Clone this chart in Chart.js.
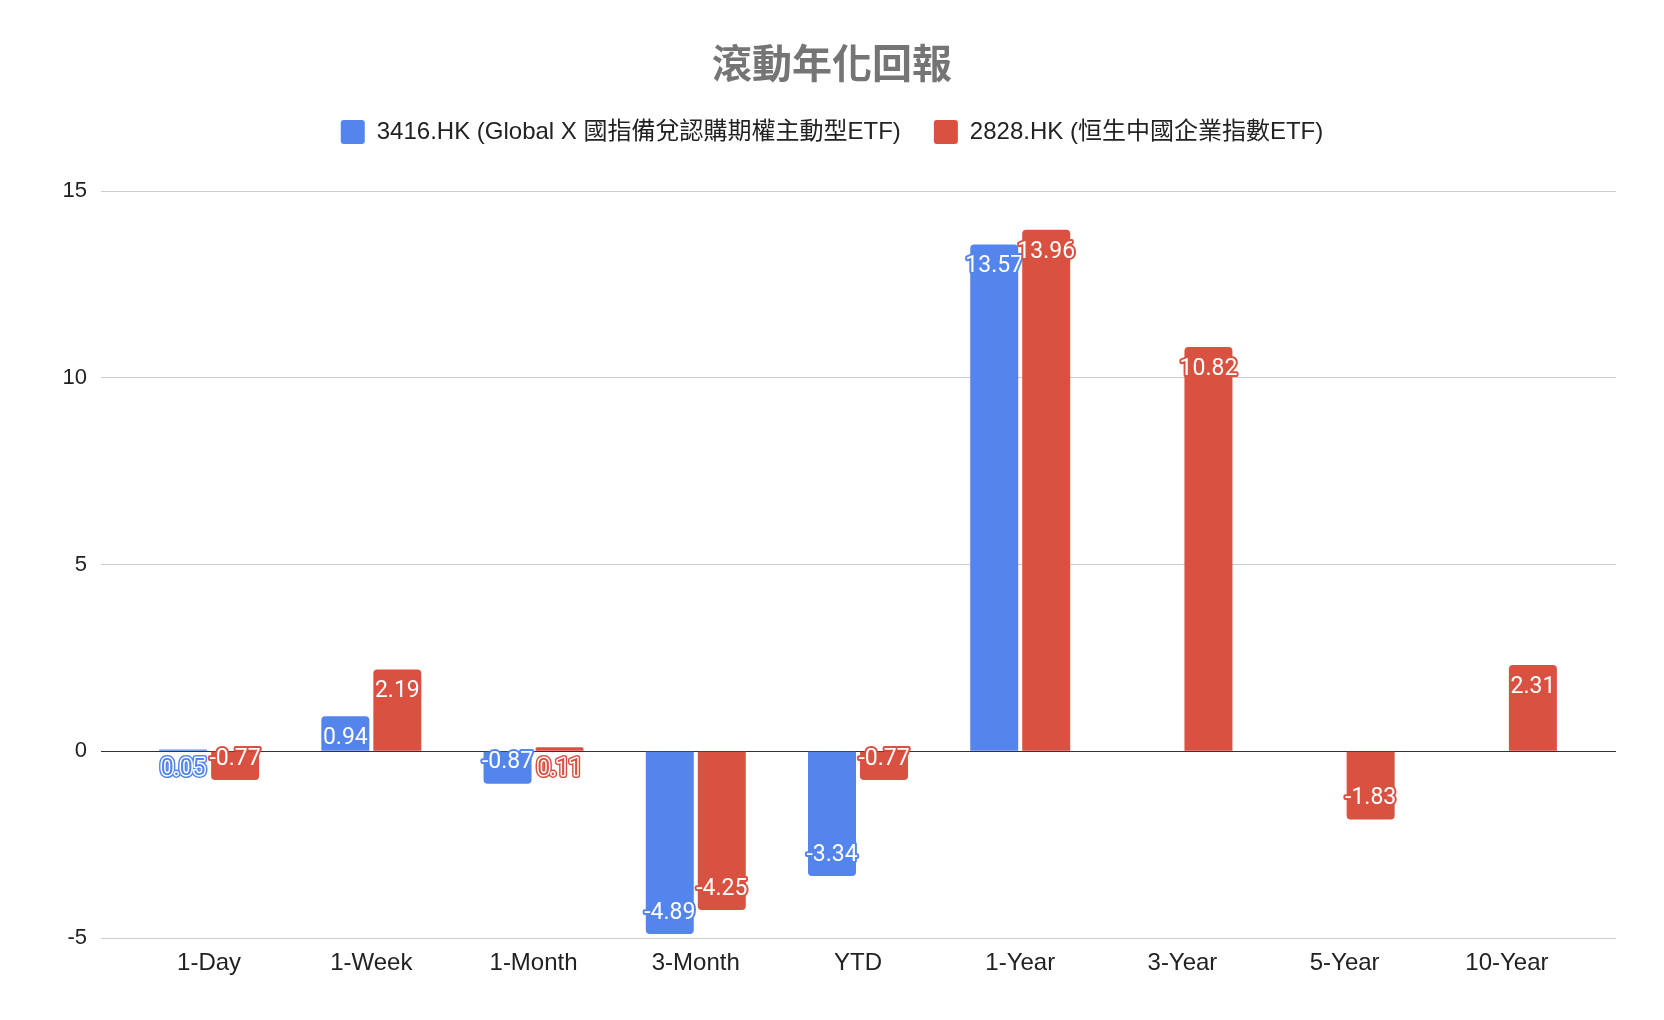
<!DOCTYPE html>
<html>
<head>
<meta charset="utf-8">
<title>滾動年化回報</title>
<script src="https://cdn.jsdelivr.net/npm/chart.js@4.4.1/dist/chart.umd.min.js"></script>
<style>
  html, body { margin: 0; padding: 0; background: #fff; }
  #wrap { width: 1664px; height: 1020px; }
</style>
</head>
<body>
<div id="wrap"><canvas id="grafico" width="1664" height="1020"></canvas></div>
<script>
// datos
const periodos = ["1-Day", "1-Week", "1-Month", "3-Month", "YTD", "1-Year", "3-Year", "5-Year", "10-Year"];
const serie3416 = [0.05, 0.94, -0.87, -4.89, -3.34, 13.57, null, null, null];
const serie2828 = [-0.77, 2.19, 0.11, -4.25, -0.77, 13.96, 10.82, -1.83, 2.31];
const nombre3416 = "3416.HK (Global X 國指備兌認購期權主動型ETF)";
const nombre2828 = "2828.HK (恒生中國企業指數ETF)";
const ticksY = [-5, 0, 5, 10, 15];

const azul = "#5385ec";
const rojo = "#d95140";
const fuenteLatina = "'Liberation Sans', Arial, 'Noto Sans CJK TC', sans-serif";

// espacio extra debajo de la leyenda
const espacioLeyenda = {
  id: "espacioLeyenda",
  beforeLayout(chart) {
    const lg = chart.legend;
    if (!lg || lg._conEspacio) return;
    const fitOriginal = lg.fit;
    lg.fit = function () {
      fitOriginal.call(this);
      this.height += 37;
    };
    lg._conEspacio = true;
  }
};

// etiquetas de valor al final de cada barra
const etiquetasBarras = {
  id: "etiquetasBarras",
  afterDatasetsDraw(chart) {
    const ctx = chart.ctx;
    ctx.save();
    ctx.font = "23px Roboto";
    ctx.textAlign = "center";
    ctx.textBaseline = "middle";
    ctx.lineJoin = "round";
    chart.data.datasets.forEach((ds, i) => {
      const meta = chart.getDatasetMeta(i);
      meta.data.forEach((bar, j) => {
        const v = ds.data[j];
        if (v === null || v === undefined) return;
        const { x, y, base } = bar.getProps(["x", "y", "base"], true);
        const largo = Math.abs(base - y);
        const texto = v.toFixed(2);
        if (largo >= 24) {
          // dentro de la barra: blanco con borde del color
          const ty = v >= 0 ? y + 22 : y - 21;
          ctx.lineWidth = 4;
          ctx.strokeStyle = ds.backgroundColor;
          ctx.strokeText(texto, x, ty);
          ctx.fillStyle = "#ffffff";
          ctx.fillText(texto, x, ty);
        } else {
          // barra muy corta: texto de color debajo del cero
          const ty = base + 18;
          ctx.lineWidth = 6;
          ctx.strokeStyle = ds.backgroundColor;
          ctx.strokeText(texto, x, ty);
          ctx.lineWidth = 3;
          ctx.strokeStyle = "#ffffff";
          ctx.strokeText(texto, x, ty);
          ctx.fillStyle = ds.backgroundColor;
          ctx.fillText(texto, x, ty);
        }
      });
    });
    ctx.restore();
  }
};

const colorGrilla = (c) => (c.tick && c.tick.value === 0 ? "#333333" : "#cccccc");

const ctx = document.getElementById("grafico");
new Chart(ctx, {
  type: "bar",
  data: {
    labels: periodos,
    datasets: [
      {
        label: nombre3416,
        data: serie3416,
        backgroundColor: azul,
        borderWidth: 0,
        borderRadius: 4,
        categoryPercentage: 0.641,
        barPercentage: 0.923
      },
      {
        label: nombre2828,
        data: serie2828,
        backgroundColor: rojo,
        borderWidth: 0,
        borderRadius: 4,
        categoryPercentage: 0.641,
        barPercentage: 0.923
      }
    ]
  },
  options: {
    responsive: false,
    animation: false,
    devicePixelRatio: 1,
    layout: { padding: { left: 39, right: 39, top: 0, bottom: 0 } },
    plugins: {
      title: {
        display: true,
        text: "滾動年化回報",
        color: "#757575",
        font: { family: "'Noto Sans CJK TC', sans-serif", size: 40, weight: "bold", lineHeight: 1.2 },
        padding: { top: 39, bottom: 0 }
      },
      legend: {
        display: true,
        position: "top",
        labels: {
          color: "#222222",
          font: { family: fuenteLatina, size: 24 },
          boxWidth: 24,
          boxHeight: 24,
          padding: 33,
          useBorderRadius: true,
          borderRadius: 3
        }
      },
      tooltip: { enabled: false }
    },
    scales: {
      x: {
        grid: { display: false },
        border: { display: false },
        ticks: {
          color: "#222222",
          font: { family: fuenteLatina, size: 24 },
          padding: 3,
          maxRotation: 0
        },
        afterFit: (s) => { s.height = 82; }
      },
      y: {
        min: -5,
        max: 15,
        afterBuildTicks: (s) => { s.ticks = ticksY.map((v) => ({ value: v })); },
        grid: { color: colorGrilla, lineWidth: 1, drawTicks: true, tickLength: 27 },
        border: { display: false },
        ticks: {
          color: "#222222",
          font: { family: fuenteLatina, size: 22 },
          padding: 14
        },
        afterFit: (s) => { s.width = 89; }
      },
      yDer: {
        position: "right",
        min: -5,
        max: 15,
        afterBuildTicks: (s) => { s.ticks = ticksY.map((v) => ({ value: v })); },
        grid: { color: colorGrilla, lineWidth: 1, drawOnChartArea: false, drawTicks: true, tickLength: 28 },
        border: { display: false },
        ticks: { display: false },
        afterFit: (s) => { s.width = 37; }
      }
    }
  },
  plugins: [espacioLeyenda, etiquetasBarras]
});
</script>
</body>
</html>
